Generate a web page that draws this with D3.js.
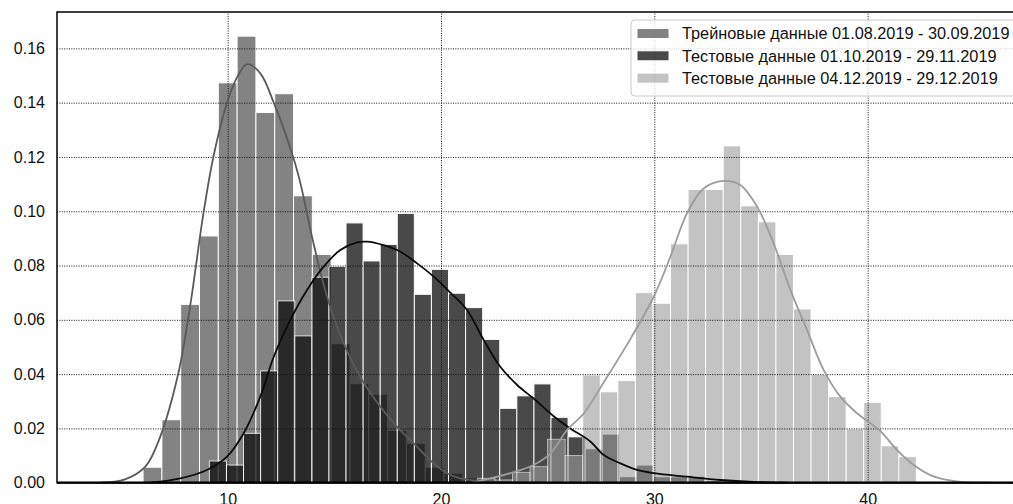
<!DOCTYPE html>
<html>
<head>
<meta charset="utf-8">
<script src="https://cdn.jsdelivr.net/npm/d3@7"></script>
<style>
  body { margin: 0; background: #fff; }
  text { font-family: "Liberation Sans", Arial, sans-serif; }
</style>
</head>
<body>
<div id="chart"></div>
<script>
// Histogram densities (bin start, bin width, heights)
const trainStart = 6.034, trainStep = 0.8817;
const trainHist = [0.0057, 0.0232, 0.0657, 0.0909, 0.1473, 0.1645, 0.1364, 0.1433, 0.1057, 0.0841,
  0.0512, 0.0365, 0.0326, 0.0192, 0.0145, 0.0057, 0.0035, 0.0018, 0.0015, 0.0007];

const test1Start = 9.142, test1Step = 0.8007;
const test1Hist = [0.008, 0.0065, 0.0182, 0.0412, 0.067, 0.0541, 0.0757, 0.0797, 0.0957, 0.0817,
  0.0878, 0.0992, 0.0694, 0.0786, 0.0698, 0.0645, 0.0528, 0.0274, 0.032, 0.0364,
  0.0241, 0.0169, 0.0125, 0.0179, 0.0022, 0.0065, 0.0022, 0.0022, 0.0024, 0.0008,
  0.0008, 0.0008, 0.0005, 0.0005];

const test2Start = 21.705, test2Step = 0.8231;
const test2Hist = [0.0016, 0.001, 0.0038, 0.0059, 0.016, 0.010, 0.0397, 0.0335, 0.0376, 0.070,
  0.0661, 0.088, 0.108, 0.108, 0.1241, 0.102, 0.0961, 0.0841, 0.064, 0.0399,
  0.0317, 0.0198, 0.0296, 0.0136, 0.0096];

// KDE curves: [x, density]
const trainKde = [[4.03, 0], [5.18, 0.0012], [6.14, 0.0059], [6.84, 0.017], [7.69, 0.0404],
  [8.25, 0.0655], [8.86, 0.099], [9.33, 0.12], [9.97, 0.14], [10.45, 0.1495], [10.92, 0.1542],
  [11.53, 0.1508], [12.16, 0.14], [13.07, 0.12], [13.42, 0.11], [13.97, 0.09], [14.66, 0.0685],
  [15.44, 0.0513], [16.30, 0.0378], [17.16, 0.028], [17.94, 0.0206], [18.72, 0.0145],
  [19.66, 0.0071], [20.28, 0.0035], [20.90, 0.0016], [21.84, 0.0007], [23.25, 0.0002], [24.66, 0]];

const test1Kde = [[6.38, 0], [7.78, 0.0016], [9.03, 0.0047], [9.97, 0.0096], [10.75, 0.0182],
  [11.53, 0.0317], [12.16, 0.0464], [12.94, 0.06], [13.72, 0.071], [14.50, 0.0796], [15.28, 0.0857],
  [16.07, 0.0885], [16.53, 0.0888], [17.31, 0.0875], [18.10, 0.0851], [18.88, 0.0808],
  [19.66, 0.0759], [20.44, 0.070], [21.22, 0.0636], [22.00, 0.0526], [22.78, 0.0427],
  [23.57, 0.036], [24.34, 0.031], [25.28, 0.0245], [26.06, 0.02], [27.00, 0.0152],
  [27.63, 0.0102], [28.41, 0.0071], [29.19, 0.0047], [29.97, 0.0035], [31.53, 0.0022],
  [33.10, 0.001], [34.66, 0.0003], [36.22, 0]];

const test2Kde = [[21.38, 0], [21.84, 0.0007], [23.25, 0.0035], [24.34, 0.0065], [25.13, 0.0108],
  [25.91, 0.0194], [26.69, 0.0255], [27.63, 0.037], [28.88, 0.053], [29.97, 0.0685],
  [30.75, 0.0832], [31.53, 0.0992], [32.31, 0.1084], [33.25, 0.1112], [34.03, 0.1097],
  [34.82, 0.1017], [35.59, 0.0882], [36.38, 0.071], [37.16, 0.0562], [37.94, 0.0415],
  [38.72, 0.0317], [39.50, 0.0256], [40.13, 0.0219], [40.60, 0.019], [41.38, 0.012],
  [42.16, 0.0065], [42.94, 0.0028], [43.72, 0.001], [44.50, 0.0002], [45.75, 0]];

const legendLabels = [
  "Трейновые данные 01.08.2019 - 30.09.2019",
  "Тестовые данные 01.10.2019 - 29.11.2019",
  "Тестовые данные 04.12.2019 - 29.12.2019"
];

const xTicks = [10, 20, 30, 40];
const yTicks = [0, 0.02, 0.04, 0.06, 0.08, 0.10, 0.12, 0.14, 0.16];

const series = [
  {hist: trainHist, start: trainStart, step: trainStep, kde: trainKde, color: "#5a5a5a", alpha: 0.75},
  {hist: test1Hist, start: test1Start, step: test1Step, kde: test1Kde, color: "#0b0b0b", alpha: 0.74},
  {hist: test2Hist, start: test2Start, step: test2Step, kde: test2Kde, color: "#9c9c9c", alpha: 0.6}
];

const width = 1013, height = 504;
const margin = {top: 12, left: 57, bottom: 21.3};
const svg = d3.select("#chart").append("svg")
  .attr("width", width)
  .attr("height", height);

const x = d3.scaleLinear().domain([2, 47]).range([margin.left, 1017]);
const y = d3.scaleLinear().domain([0, 0.1734]).range([height - margin.bottom, margin.top]);

// Bars
series.forEach(s => {
  svg.append("g")
    .selectAll("rect")
    .data(s.hist)
    .enter()
    .append("rect")
    .attr("x", (d, i) => x(s.start + i * s.step))
    .attr("width", (d, i) => x(s.start + (i + 1) * s.step) - x(s.start + i * s.step))
    .attr("y", d => y(d))
    .attr("height", d => y(0) - y(d))
    .attr("fill", s.color)
    .attr("stroke", "#fff")
    .attr("stroke-width", 1)
    .attr("opacity", s.alpha);
});

// Grid (dotted)
svg.append("g")
  .attr("transform", `translate(${margin.left},0)`)
  .call(d3.axisLeft(y).tickValues(yTicks).tickSize(-(x.range()[1] - margin.left)).tickFormat(""))
  .call(g => g.select(".domain").remove())
  .selectAll("line")
  .attr("stroke", "#111")
  .attr("stroke-dasharray", "1,1.4");
svg.append("g")
  .attr("transform", `translate(0,${y(0)})`)
  .call(d3.axisBottom(x).tickValues(xTicks).tickSize(-(y(0) - margin.top)).tickFormat(""))
  .call(g => g.select(".domain").remove())
  .selectAll("line")
  .attr("stroke", "#111")
  .attr("stroke-dasharray", "1,1.4");

// KDE lines
const line = d3.line()
  .x(d => x(d[0]))
  .y(d => y(d[1]))
  .curve(d3.curveCatmullRom.alpha(0.5));
series.forEach(s => {
  svg.append("path")
    .datum(s.kde)
    .attr("d", line)
    .attr("fill", "none")
    .attr("stroke", s.color)
    .attr("stroke-width", 1.8);
});

// Frame
svg.append("rect")
  .attr("x", margin.left)
  .attr("y", margin.top)
  .attr("width", x.range()[1] - margin.left)
  .attr("height", y(0) - margin.top)
  .attr("fill", "none")
  .attr("stroke", "#000")
  .attr("stroke-width", 1.5);
svg.append("line")
  .attr("x1", margin.left).attr("x2", x.range()[1])
  .attr("y1", y(0)).attr("y2", y(0))
  .attr("stroke", "#000")
  .attr("stroke-width", 2.2);

// Tick labels
const yAxis = svg.append("g")
  .attr("transform", `translate(${margin.left},0)`)
  .call(d3.axisLeft(y).tickValues(yTicks).tickFormat(d3.format(".2f")).tickSize(0).tickPadding(12));
yAxis.select(".domain").remove();
yAxis.selectAll("text").attr("font-size", "16px").attr("fill", "#111")
  .style("font-family", "'Liberation Sans', Arial, sans-serif");

const xAxis = svg.append("g")
  .attr("transform", `translate(0,${y(0)})`)
  .call(d3.axisBottom(x).tickValues(xTicks).tickSize(0).tickPadding(11));
xAxis.select(".domain").remove();
xAxis.selectAll("text").attr("font-size", "16px").attr("fill", "#111")
  .style("font-family", "'Liberation Sans', Arial, sans-serif");

// Legend
const legend = svg.append("g").attr("transform", "translate(631,20)");
legend.append("rect")
  .attr("x", 0).attr("y", 0)
  .attr("width", 420).attr("height", 76)
  .attr("rx", 4)
  .attr("fill", "#fff")
  .attr("fill-opacity", 0.8)
  .attr("stroke", "#c8c8c8")
  .attr("stroke-width", 1);
series.forEach((s, i) => {
  const cy = 13.5 + i * 22.3;
  legend.append("rect")
    .attr("x", 6).attr("y", cy - 5)
    .attr("width", 32).attr("height", 10)
    .attr("fill", s.color)
    .attr("stroke", "#fff")
    .attr("opacity", s.alpha);
  legend.append("text")
    .attr("x", 51)
    .attr("y", cy + 5.9)
    .attr("font-size", "16.3px")
    .attr("fill", "#111")
    .text(legendLabels[i]);
});
</script>
</body>
</html>
